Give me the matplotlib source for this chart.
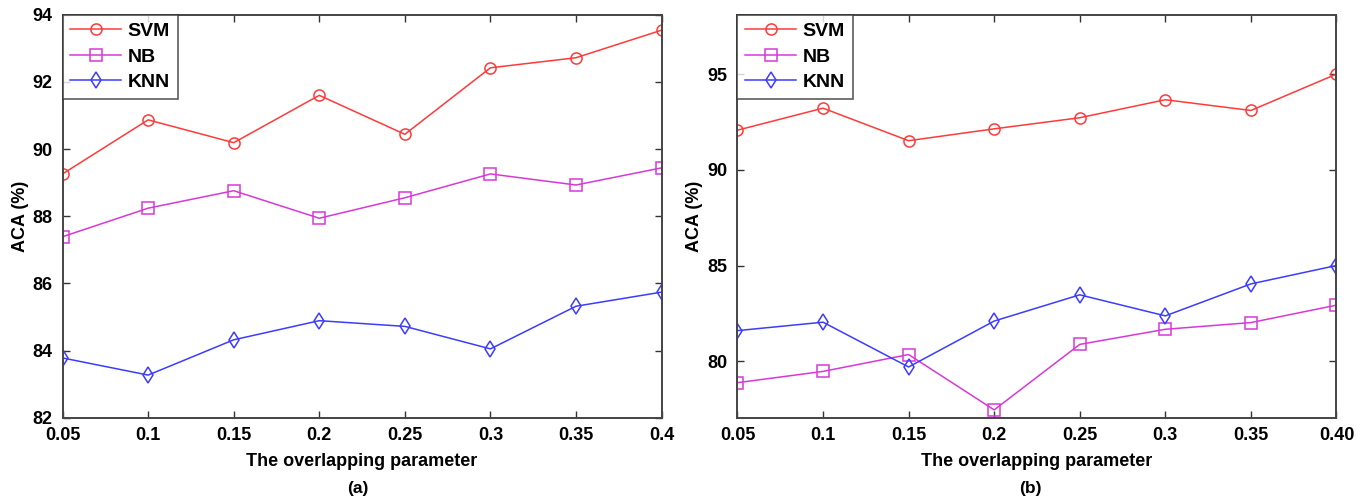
import matplotlib
matplotlib.use('Agg')
import matplotlib.pyplot as plt

plt.rcParams['font.family'] = ['Liberation Sans', 'DejaVu Sans']
plt.rcParams['font.weight'] = 'bold'

overlap = [0.05, 0.1, 0.15, 0.2, 0.25, 0.3, 0.35, 0.4]
xlabels_a = ['0.05', '0.1', '0.15', '0.2', '0.25', '0.3', '0.35', '0.4']
xlabels_b = ['0.05', '0.1', '0.15', '0.2', '0.25', '0.3', '0.35', '0.40']

svm_a = [89.26, 90.87, 90.19, 91.60, 90.44, 92.42, 92.72, 93.54]
nb_a = [87.39, 88.24, 88.76, 87.94, 88.55, 89.26, 88.93, 89.44]
knn_a = [83.78, 83.27, 84.32, 84.89, 84.72, 84.05, 85.32, 85.74]

svm_b = [92.07, 93.22, 91.52, 92.14, 92.72, 93.66, 93.10, 95.00]
nb_b = [78.88, 79.47, 80.35, 77.46, 80.88, 81.67, 82.02, 82.93]
knn_b = [81.60, 82.04, 79.70, 82.10, 83.47, 82.37, 84.04, 85.00]

red, mag, blue = '#ff3a3a', '#d838d8', '#3c3cff'

fig = plt.figure(figsize=(13.72, 4.98), dpi=100)
ax1 = fig.add_axes([0.0456, 0.1612, 0.4366, 0.8092])
ax2 = fig.add_axes([0.5375, 0.1612, 0.4366, 0.8092])


def draw(ax, svm, nb, knn, xlabels, ylim, yticks):
    kw = dict(lw=1.1, markersize=8, markerfacecolor='none', markeredgewidth=1.1)
    ax.plot(overlap, svm, color=red, marker='o', label='SVM', **kw)
    ax.plot(overlap, nb, color=mag, marker='s', label='NB', **kw)
    ax.plot(overlap, knn, color=blue, marker='d', label='KNN', **kw)
    ax.set_xlim(0.05, 0.4)
    ax.set_ylim(*ylim)
    ax.set_xticks(overlap)
    ax.set_xticklabels(xlabels)
    ax.set_yticks(yticks)
    ax.tick_params(direction='in', top=True, right=True, length=5, width=1,
                   labelsize=13, pad=7, color='#333333')
    for s in ax.spines.values():
        s.set_linewidth(1.4)
        s.set_color('#444444')
    ax.set_xlabel('The overlapping parameter', fontsize=13, fontweight='bold', labelpad=6)
    ax.set_ylabel('ACA (%)', fontsize=13, fontweight='bold', labelpad=3)
    leg = ax.legend(loc='upper left', fontsize=14, fancybox=False, borderaxespad=0,
                    handlelength=2.6, labelspacing=0.4, borderpad=0.4, handletextpad=0.35)
    leg.get_frame().set_edgecolor('#333333')
    leg.get_frame().set_linewidth(1.2)


draw(ax1, svm_a, nb_a, knn_a, xlabels_a, (82, 94), [82, 84, 86, 88, 90, 92, 94])
draw(ax2, svm_b, nb_b, knn_b, xlabels_b, (77.05, 98.1), [80, 85, 90, 95])

fig.text(358 / 1372, 1 - 488 / 498, '(a)', ha='center', va='center', fontsize=12.5, fontweight='bold')
fig.text(1030 / 1372, 1 - 488 / 498, '(b)', ha='center', va='center', fontsize=12.5, fontweight='bold')

fig.savefig('out.png', dpi=100)
